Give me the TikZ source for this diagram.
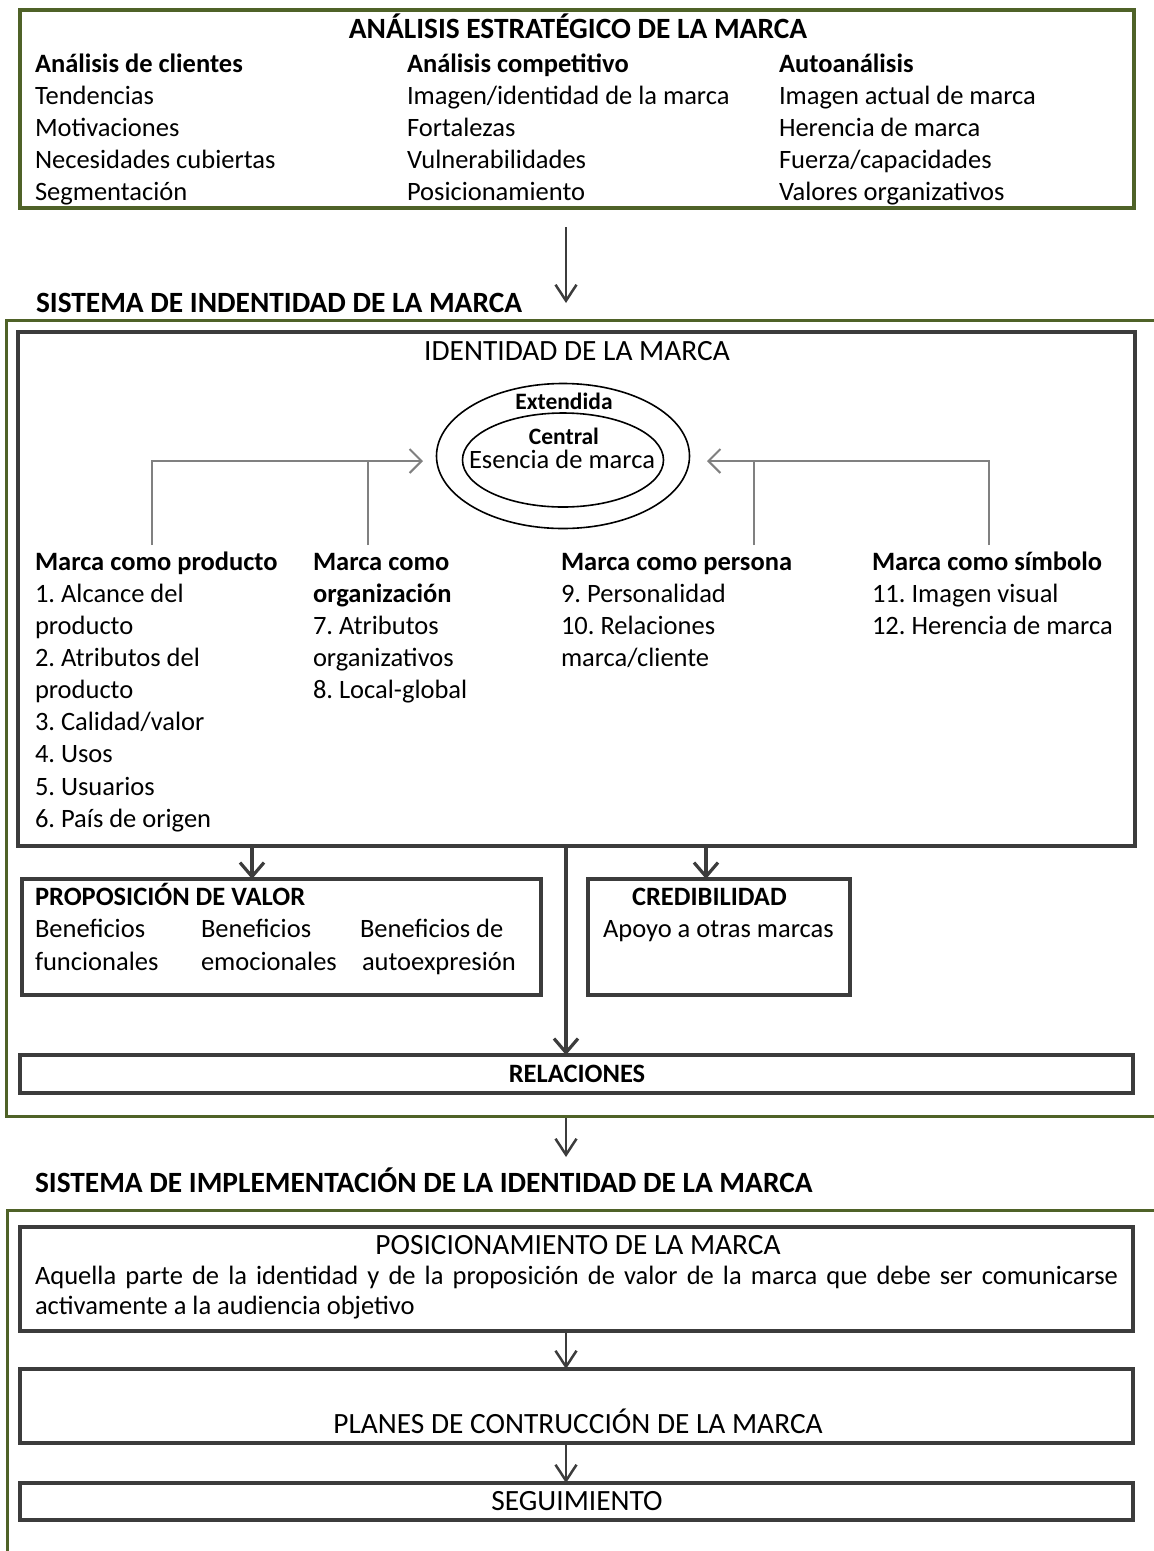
\documentclass[tikz,border=0pt]{standalone}
\usepackage{fontspec}
\setmainfont{Carlito}
\usetikzlibrary{arrows.meta,shapes.geometric}
\definecolor{framegreen}{HTML}{4F6228}
\definecolor{boxgrey}{HTML}{3C3C3C}
\definecolor{linkgrey}{HTML}{808080}
\newcommand{\bodyfont}{\fontsize{26.5}{32}\selectfont}
\newcommand{\headfont}{\fontsize{29.4}{35}\selectfont}
\newcommand{\ringfont}{\fontsize{23.5}{28}\selectfont}
\frenchspacing

\begin{document}
\begin{tikzpicture}[x=1pt,y=-1pt,
  greenframe/.style={draw=framegreen,line width=3pt},
  panel/.style={draw=boxgrey,line width=3.2pt,rectangle,inner sep=0pt,outer sep=0pt},
  gpanel/.style={panel,draw=framegreen},
  lbl/.style={anchor=base west,inner sep=0pt,outer sep=0pt,font=\bodyfont},
  blbl/.style={lbl,font=\bodyfont\bfseries},
  hlbl/.style={lbl,font=\headfont\bfseries},
  clbl/.style={anchor=base,inner sep=0pt,outer sep=0pt,font=\bodyfont},
  cblbl/.style={clbl,font=\bodyfont\bfseries},
  chlbl/.style={clbl,font=\headfont},
  flow/.style={draw=boxgrey,line width=3.2pt,-{Straight Barb[length=14pt,width=24pt]}},
  thinflow/.style={draw=boxgrey,line width=2.5pt,-{Straight Barb[length=16pt,width=21pt]}},
  feed/.style={draw=linkgrey,line width=2pt,-{Straight Barb[length=12pt,width=24pt]}},
  feedline/.style={draw=linkgrey,line width=2pt},
  ring/.style={draw=black,line width=1.6pt,ellipse,inner sep=0pt,outer sep=0pt},
]
\useasboundingbox (0,0) rectangle (1154,1551);

% ---------- strategic analysis ----------
\node[gpanel,minimum width=1114pt,minimum height=198pt] (strat) at (577,109) {};
\node[clbl,font=\headfont\bfseries] (stitle) at (578,38) {ANÁLISIS ESTRATÉGICO DE LA MARCA};

\node[blbl] (c1h) at (35,72) {Análisis de clientes};
\node[lbl] at (35,104) {Tendencias};
\node[lbl] at (35,136) {Motivaciones};
\node[lbl] at (35,168) {Necesidades cubiertas};
\node[lbl] at (35,200) {Segmentación};

\node[blbl] (c2h) at (407,72) {Análisis competitivo};
\node[lbl] at (407,104) {Imagen/identidad de la marca};
\node[lbl] at (407,136) {Fortalezas};
\node[lbl] at (407,168) {Vulnerabilidades};
\node[lbl] at (407,200) {Posicionamiento};

\node[blbl] (c3h) at (779,72) {Autoanálisis};
\node[lbl] at (779,104) {Imagen actual de marca};
\node[lbl] at (779,136) {Herencia de marca};
\node[lbl] at (779,168) {Fuerza/capacidades};
\node[lbl] at (779,200) {Valores organizativos};

\coordinate (a1s) at (566,227);
\coordinate (a1e) at (566,303);
\draw[thinflow] (a1s) -- (a1e);

% ---------- identity system ----------
\node[hlbl] (h2) at (36,312) {SISTEMA DE INDENTIDAD DE LA MARCA};
\draw[greenframe] (1160,320) -- (6,320) -- (6,1116) -- (1160,1116);

\node[panel,minimum width=1117pt,minimum height=514pt] (ident) at (576.5,589) {};
\node[chlbl] (identt) at (577,360) {IDENTIDAD DE LA MARCA};

\node[ring,minimum width=253pt,minimum height=145pt] (ext) at (563,456) {};
\node[ring,minimum width=201pt,minimum height=94pt] (core) at (563,460) {};
\node[anchor=base,inner sep=0pt,font=\ringfont\bfseries] (extt) at (564,409) {Extendida};
\node[anchor=base,inner sep=0pt,font=\ringfont\bfseries] (coret) at (564,444) {Central};
\node[anchor=base,inner sep=0pt,font=\fontsize{26.5}{30}\selectfont] (esst) at (562,468) {Esencia de marca};

% four perspectives
\node[blbl] (prod) at (35,570) {Marca como producto};
\node[lbl] at (35,602) {1. Alcance del};
\node[lbl] at (35,634) {producto};
\node[lbl] at (35,666) {2. Atributos del};
\node[lbl] at (35,698) {producto};
\node[lbl] at (35,730) {3. Calidad/valor};
\node[lbl] at (35,762) {4. Usos};
\node[lbl] at (35,795) {5. Usuarios};
\node[lbl] at (35,827) {6. País de origen};

\node[blbl] (org) at (313,570) {Marca como};
\node[blbl] at (313,602) {organización};
\node[lbl] at (313,634) {7. Atributos};
\node[lbl] at (313,666) {organizativos};
\node[lbl] at (313,698) {8. Local-global};

\node[blbl] (pers) at (561,570) {Marca como persona};
\node[lbl] at (561,602) {9. Personalidad};
\node[lbl] at (561,634) {10. Relaciones};
\node[lbl] at (561,666) {marca/cliente};

\node[blbl] (symb) at (872,570) {Marca como símbolo};
\node[lbl] at (872,602) {11. Imagen visual};
\node[lbl] at (872,634) {12. Herencia de marca};

% feeds into the identity core
\coordinate (fl) at (423,461);
\coordinate (fr) at (707,461);
\coordinate (v1) at (152,545);
\coordinate (v2) at (368,545);
\coordinate (v3) at (754,545);
\coordinate (v4) at (989,545);
\draw[feed] (v1) |- (fl);
\draw[feedline] (v2) -- (v2 |- fl);
\draw[feed] (v4) |- (fr);
\draw[feedline] (v3) -- (v3 |- fr);

% value proposition, credibility, relationships
\node[panel,minimum width=519pt,minimum height=116pt] (prop) at (281.5,937) {};
\node[blbl] at (35,905) {PROPOSICIÓN DE VALOR};
\node[lbl] at (35,937) {Beneficios};
\node[lbl] at (35,970) {funcionales};
\node[lbl] at (201,937) {Beneficios};
\node[lbl] at (201,970) {emocionales};
\node[lbl] at (360,937) {Beneficios de};
\node[lbl] at (362,970) {autoexpresión};

\node[panel,minimum width=262pt,minimum height=116pt] (cred) at (719,937) {};
\node[blbl] at (632,905) {CREDIBILIDAD};
\node[lbl] at (603,937) {Apoyo a otras marcas};

\node[panel,minimum width=1113pt,minimum height=38pt] (rel) at (576.5,1074) {};
\node[cblbl] at (577,1082) {RELACIONES};

\coordinate (xp) at (252,0);
\coordinate (xm) at (566,0);
\coordinate (xc) at (706,0);
\draw[flow] (ident.south -| xp) -- (prop.north -| xp);
\draw[flow] (ident.south -| xc) -- (cred.north -| xc);
\draw[flow] (ident.south -| xm) -- (rel.north -| xm);

\coordinate (a2s) at (566,1118);
\coordinate (a2e) at (566,1157);
\draw[thinflow] (a2s) -- (a2e);

% ---------- implementation system ----------
\node[hlbl] (h3) at (35,1192) {SISTEMA DE IMPLEMENTACIÓN DE LA IDENTIDAD DE LA MARCA};
\draw[greenframe] (1160,1210) -- (7,1210) -- (7,1560);

\node[panel,minimum width=1113pt,minimum height=104pt] (pos) at (576.5,1279) {};
\node[chlbl] at (578,1254) {POSICIONAMIENTO DE LA MARCA};
\node[lbl] at (35,1284) {\makebox[1083pt][s]{Aquella parte de la identidad y de la proposición de valor de la marca que debe ser comunicarse}};
\node[lbl] at (35,1314) {activamente a la audiencia objetivo};

\node[panel,minimum width=1113pt,minimum height=74pt] (plan) at (576.5,1406) {};
\node[chlbl] at (578,1433) {PLANES DE CONTRUCCIÓN DE LA MARCA};

\node[panel,minimum width=1113pt,minimum height=37pt] (seg) at (576.5,1501.5) {};
\node[chlbl] at (577,1510) {SEGUIMIENTO};

\draw[thinflow] (pos.south -| xm) -- (plan.north -| xm);
\draw[thinflow] (plan.south -| xm) -- (seg.north -| xm);
\end{tikzpicture}
\end{document}
